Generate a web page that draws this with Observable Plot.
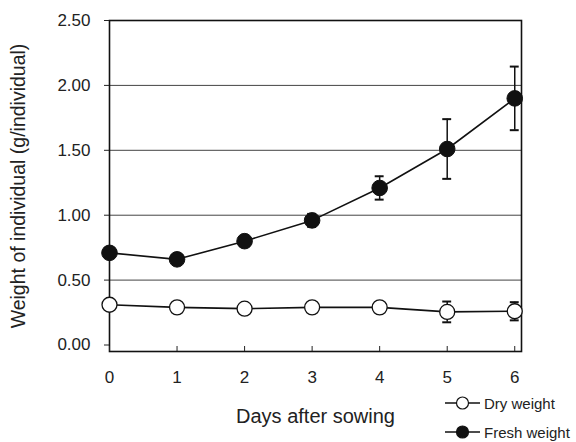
<!DOCTYPE html>
<html>
<head>
<meta charset="utf-8">
<script src="https://cdn.jsdelivr.net/npm/d3@7"></script>
<script src="https://cdn.jsdelivr.net/npm/@observablehq/plot@0.6"></script>
<style>
  html, body { margin: 0; padding: 0; background: #fff; }
  #wrap { position: relative; width: 576px; height: 442px; }
  #legend { position: absolute; left: 445px; top: 393px; font-family: "Liberation Sans", Arial, sans-serif; font-size: 15px; color: #222; }
  .row { display: flex; align-items: center; height: 20px; margin-bottom: 9px; }
  .row span { margin-left: 3px; }
</style>
</head>
<body>
<div id="wrap">
  <div id="chart"></div>
  <div id="legend"></div>
</div>
<script>
const days = [0, 1, 2, 3, 4, 5, 6];
const dryWeight = [0.31, 0.29, 0.28, 0.29, 0.29, 0.255, 0.26];
const dryError = [0.01, 0.01, 0.01, 0.01, 0.01, 0.08, 0.07];
const freshWeight = [0.71, 0.66, 0.80, 0.96, 1.21, 1.51, 1.90];
const freshError = [0.02, 0.01, 0.01, 0.05, 0.09, 0.23, 0.245];
const yTicks = [0, 0.5, 1.0, 1.5, 2.0, 2.5];
const gridValues = [0.5, 1.0, 1.5, 2.0];
const seriesNames = ["Dry weight", "Fresh weight"];

const dry = days.map((d, i) => ({day: d, value: dryWeight[i], err: dryError[i]}));
const fresh = days.map((d, i) => ({day: d, value: freshWeight[i], err: freshError[i]}));
const cap = 0.066;

function errorMarks(data) {
  return [
    Plot.ruleX(data, {x: "day", y1: d => d.value - d.err, y2: d => d.value + d.err, stroke: "#111", strokeWidth: 1.5}),
    Plot.ruleY(data, {y: d => d.value + d.err, x1: d => d.day - cap, x2: d => d.day + cap, stroke: "#111", strokeWidth: 2}),
    Plot.ruleY(data, {y: d => d.value - d.err, x1: d => d.day - cap, x2: d => d.day + cap, stroke: "#111", strokeWidth: 2})
  ];
}

const font = "'Liberation Sans', Arial, sans-serif";

const chart = Plot.plot({
  width: 576,
  height: 442,
  marginLeft: 109,
  marginRight: 55,
  marginTop: 20,
  marginBottom: 91,
  style: {fontFamily: font, fontSize: "17px", color: "#222", background: "#fff"},
  x: {domain: [0, 6.1]},
  y: {domain: [-0.05, 2.5]},
  marks: [
    Plot.ruleY(gridValues, {stroke: "#444", strokeWidth: 1}),
    Plot.frame({stroke: "#111", strokeWidth: 1.6}),
    Plot.axisY({ticks: yTicks, tickFormat: d3.format(".2f"), tickSize: 5, tickPadding: 14, fontSize: 17, label: null}),
    Plot.axisY({ticks: [], tickSize: 0, label: "Weight of individual (g/individual)", labelAnchor: "center", labelOffset: 98, labelArrow: "none", fontSize: 19.5}),
    Plot.axisX({ticks: days, tickFormat: d => d, tickSize: -5, tickPadding: 24, fontSize: 17, label: null}),
    Plot.axisX({ticks: [], tickSize: 0, label: "Days after sowing", labelAnchor: "center", labelOffset: 71, labelArrow: "none", fontSize: 20}),
    ...errorMarks(dry),
    ...errorMarks(fresh),
    Plot.line(dry, {x: "day", y: "value", stroke: "#111", strokeWidth: 1.6}),
    Plot.line(fresh, {x: "day", y: "value", stroke: "#111", strokeWidth: 1.6}),
    Plot.dot(dry, {x: "day", y: "value", r: 7.5, fill: "#fff", stroke: "#111", strokeWidth: 1.3}),
    Plot.dot(fresh, {x: "day", y: "value", r: 7.8, fill: "#111", stroke: "#111", strokeWidth: 1})
  ]
});
document.getElementById("chart").appendChild(chart);

const legend = document.getElementById("legend");
seriesNames.forEach((name, i) => {
  const row = document.createElement("div");
  row.className = "row";
  const fill = i === 0 ? "#fff" : "#111";
  row.innerHTML = `<svg width="36" height="20"><line x1="0" y1="10" x2="35" y2="10" stroke="#111" stroke-width="1.6"/><circle cx="17.5" cy="10" r="6" fill="${fill}" stroke="#111" stroke-width="1.2"/></svg><span>${name}</span>`;
  legend.appendChild(row);
});
</script>
</body>
</html>
